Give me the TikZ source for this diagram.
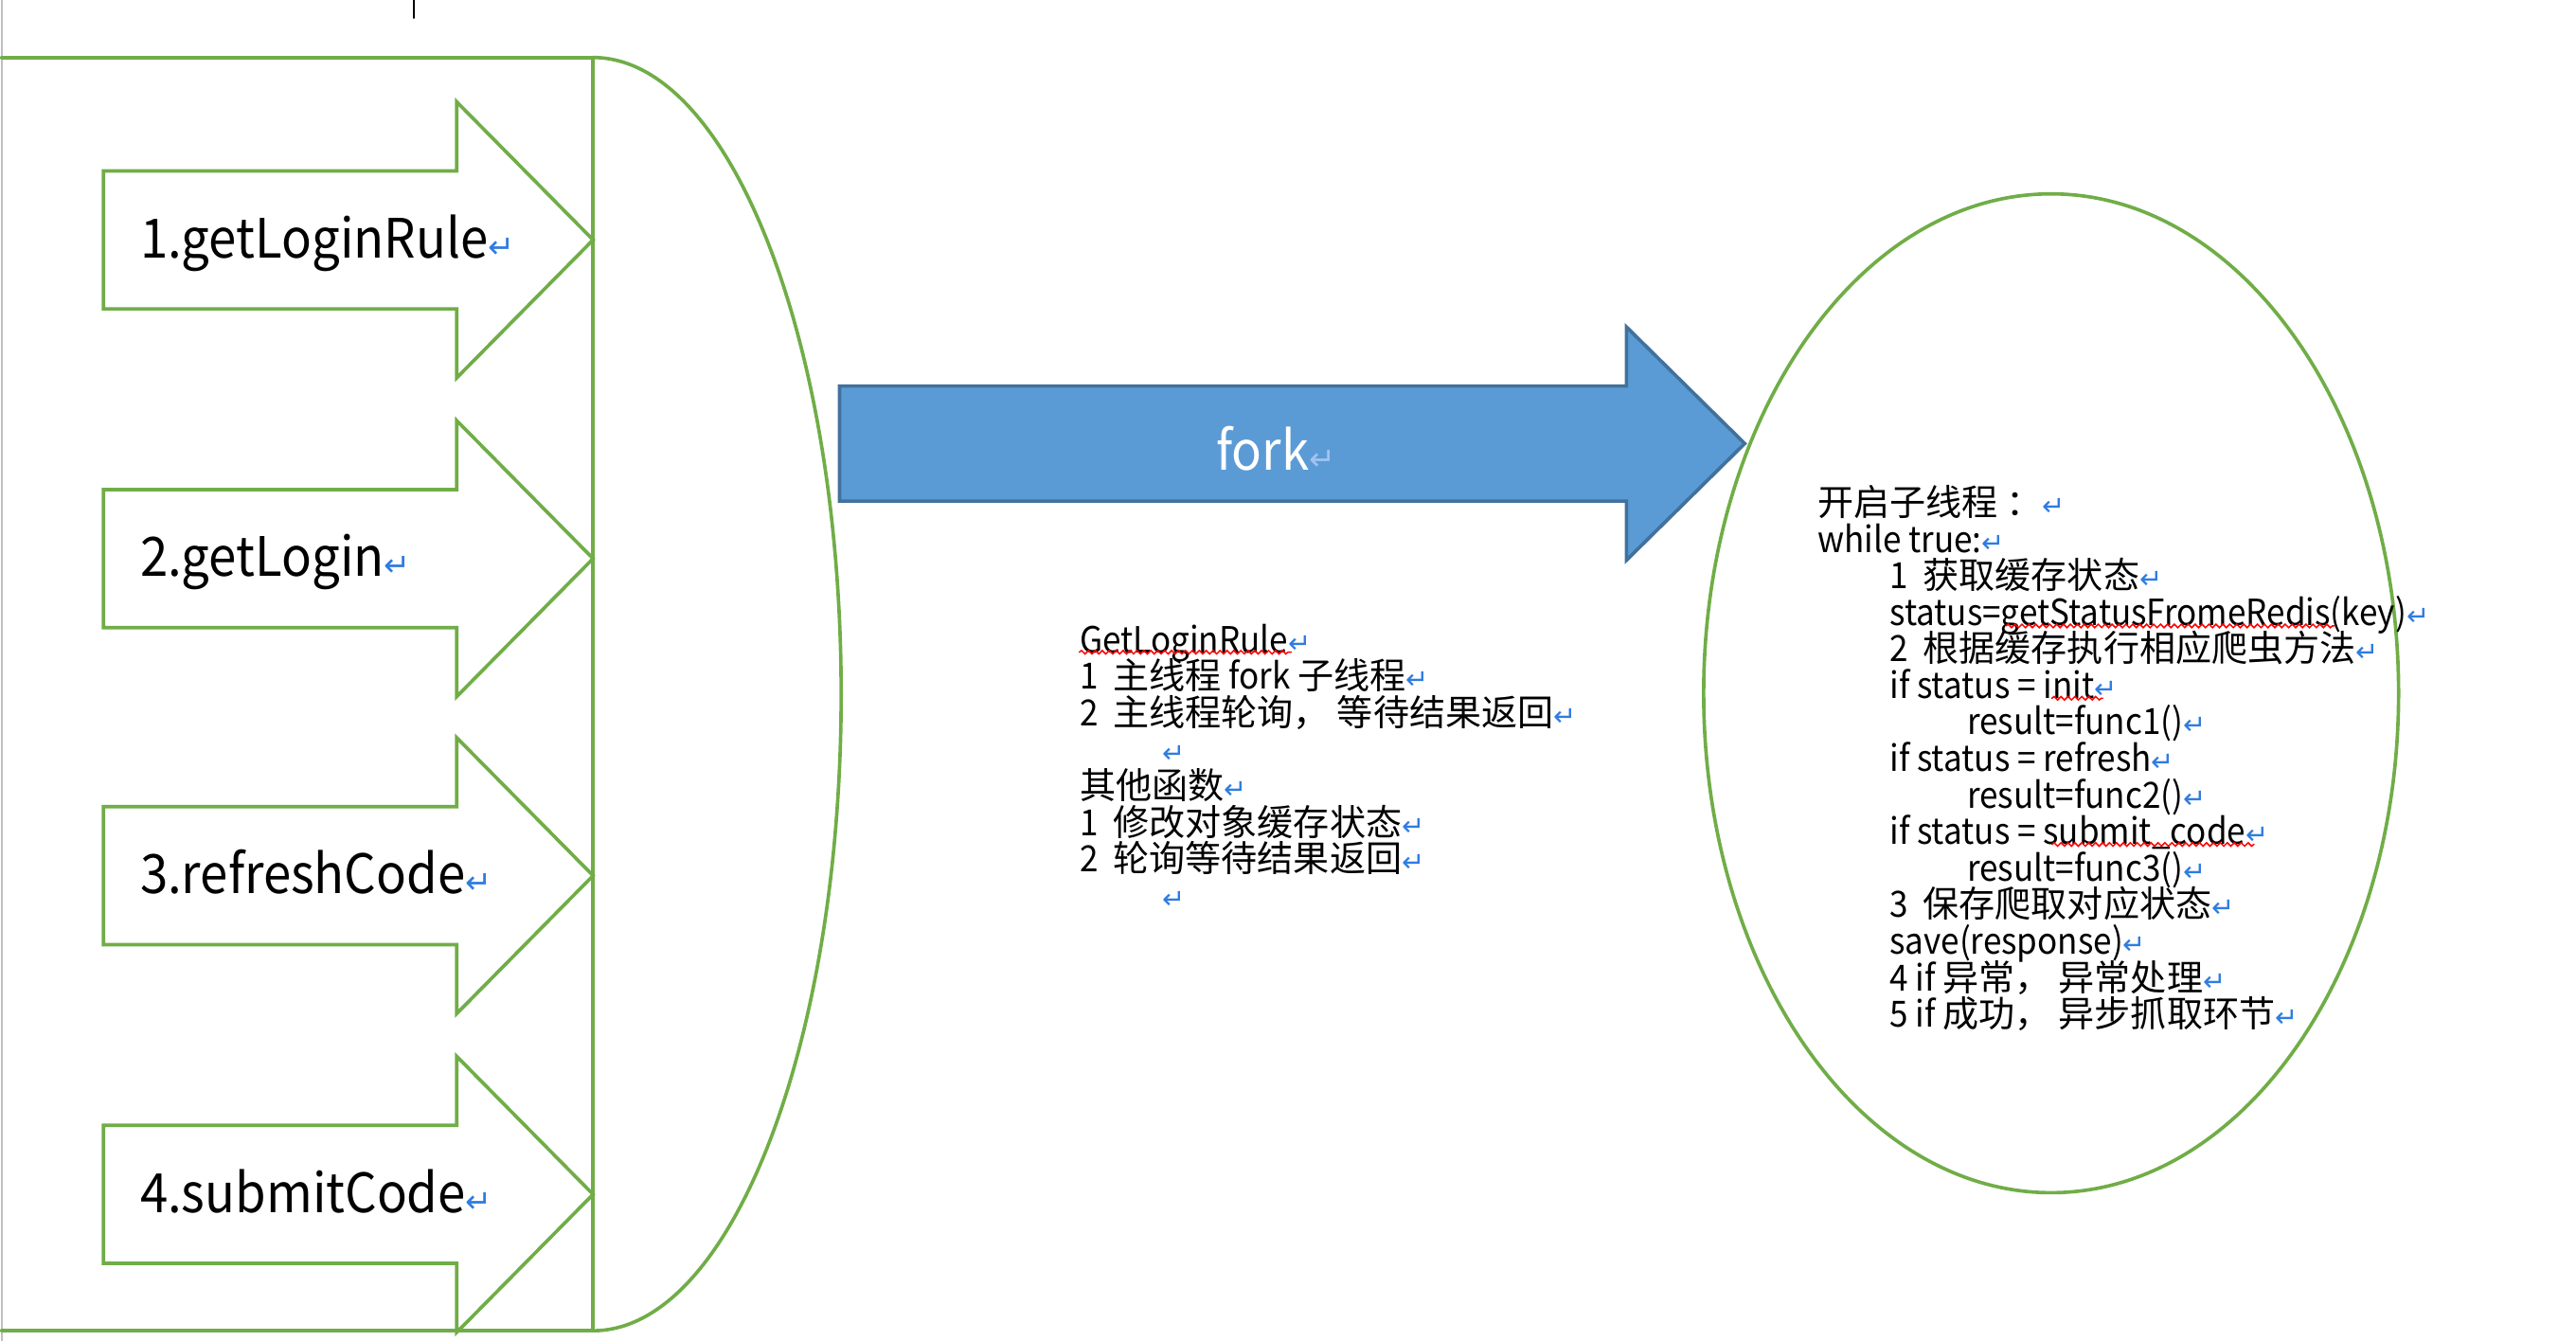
\documentclass[tikz,border=0pt]{standalone}
\usepackage{fontspec}
\setmainfont{Noto Sans CJK SC}[FakeStretch=0.92]
\newfontfamily\cjk{Noto Sans CJK SC}
\newfontfamily\markfont{DejaVu Sans}
\usetikzlibrary{decorations.pathmorphing}
\definecolor{shapegreen}{HTML}{70AD47}
\definecolor{forkblue}{HTML}{5B9BD5}
\definecolor{forkline}{HTML}{41719C}
\definecolor{markblue}{HTML}{2F7CE0}
\newcommand{\retmark}[1][9.5]{{\markfont\fontsize{#1}{#1}\selectfont\color{markblue}↵}}
\newcommand{\zh}[1]{{\cjk #1}}
\tikzset{
  stepbox/.style={draw=shapegreen, line width=1.2pt, fill=white, line join=miter},
  biglabel/.style={font=\fontsize{18.8}{20}\selectfont, anchor=base west, inner sep=0pt},
  notes/.style={font={\fontsize{12.5}{12.66}\selectfont\lineskiplimit=-100pt}, align=left, anchor=north west, inner sep=0pt},
  spellwave/.style={red, line width=0.5pt, decorate, decoration={snake, amplitude=0.6pt, segment length=2.4pt}},
}
\begin{document}
\begin{tikzpicture}[x=0.02cm, y=-0.02cm, line cap=round]
	\useasboundingbox (0,0) rectangle (1568,816);
	%\draw[gray!30] (0,0) grid[step=100] (1568,816);
	\draw[gray!50, line width=0.8pt] (1,0) -- (1,816);
	\draw[line width=0.5pt] (252,0) -- (252,11);
	% left container
	\draw[stepbox, fill=none] (1,35) -- (361,35) -- (361,810) -- (1,810);
	\draw[stepbox, fill=none] (361,35) arc[start angle=-90, end angle=90, x radius=151, y radius=387.5];
	\foreach \y/\name/\txt in {146/rule/1.getLoginRule, 340/login/2.getLogin, 533/refresh/3.refreshCode, 727/submit/4.submitCode}{
		\draw[stepbox] (63,\y-42) -- (278,\y-42) -- (278,\y-84) -- (361,\y) -- (278,\y+84) -- (278,\y+42) -- (63,\y+42) -- cycle;
		\node[biglabel] (\name) at (85,\y+11) {\txt\retmark[11]};
	}
	% fork arrow
	\draw[fill=forkblue, draw=forkline, line width=1.2pt, line join=miter] (511,235) -- (990,235) -- (990,199) -- (1062,270) -- (990,341) -- (990,305) -- (511,305) -- cycle;
	\node[biglabel, text=white] (fork) at (740,286) {fork{\markfont\fontsize{11}{11}\selectfont\color{white!55!markblue}↵}};
	% notes in the middle
	\node[notes] (mainnotes) at (657,379.5) {GetLoginRule\retmark\\
		1~~\zh{主线程} fork \zh{子线程}\retmark\\
		2~~\zh{主线程轮询，}\ \zh{等待结果返回}\retmark\\
		\hspace*{2.3em}\retmark\\
		\zh{其他函数}\retmark\\
		1~~\zh{修改对象缓存状态}\retmark\\
		2~~\zh{轮询等待结果返回}\retmark\\
		\hspace*{2.3em}\retmark};
	\draw[spellwave] (657,397) -- (786,397);
	% child thread
	\draw[shapegreen, line width=1.2pt] (1248.5,422) ellipse[x radius=211.5, y radius=304];
	\node[notes] (thread) at (1106,295) {\zh{开启子线程 ：}\retmark\\
		while true:\retmark\\
		\hspace*{2em}1~~\zh{获取缓存状态}\retmark\\
		\hspace*{2em}status=getStatusFromeRedis(key)\retmark\\
		\hspace*{2em}2~~\zh{根据缓存执行相应爬虫方法}\retmark\\
		\hspace*{2em}if status = init\retmark\\
		\hspace*{4.15em}result=func1()\retmark\\
		\hspace*{2em}if status = refresh\retmark\\
		\hspace*{4.15em}result=func2()\retmark\\
		\hspace*{2em}if status = submit\_code\retmark\\
		\hspace*{4.15em}result=func3()\retmark\\
		\hspace*{2em}3~~\zh{保存爬取对应状态}\retmark\\
		\hspace*{2em}save(response)\retmark\\
		\hspace*{2em}4 if \zh{异常，}\ \zh{异常处理}\retmark\\
		\hspace*{2em}5 if \zh{成功，}\ \zh{异步抓取环节}\retmark};
	\draw[spellwave] (1221,381) -- (1421,381);
	\draw[spellwave] (1249,425) -- (1280,425);
	\draw[spellwave] (1249,514) -- (1372,514);
\end{tikzpicture}
\end{document}
